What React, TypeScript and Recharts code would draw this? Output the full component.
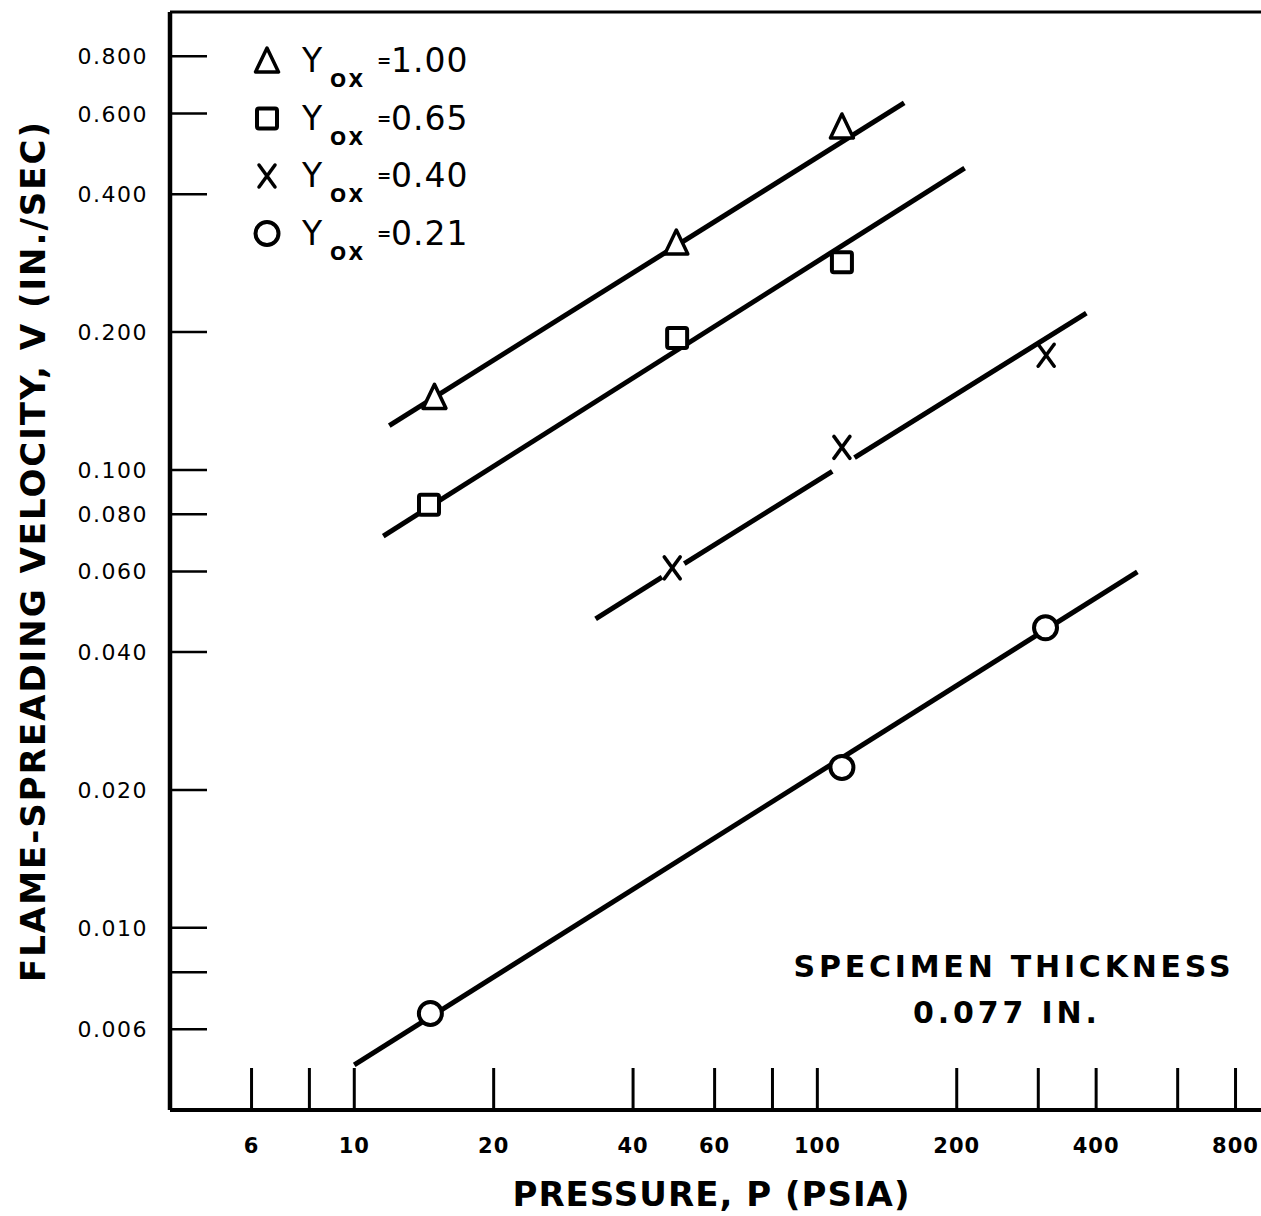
import React from 'react';
import { ComposedChart, Scatter, XAxis, YAxis } from 'recharts';

// axis ticks (log scales)
const pressureTicks = [6, 8, 10, 20, 40, 60, 80, 100, 200, 300, 400, 600, 800];
const pressureLabelled = [6, 10, 20, 40, 60, 100, 200, 400, 800];
const velocityTicks = [0.8, 0.6, 0.4, 0.2, 0.1, 0.08, 0.06, 0.04, 0.02, 0.01, 0.008, 0.006];
const velocityUnlabelled = [0.008];

// measured points, pressure (psia) vs velocity (in./sec)
const yox100Points = [
  { p: 14.9, v: 0.144 },
  { p: 49.6, v: 0.313 },
  { p: 113, v: 0.561 },
];
const yox065Points = [
  { p: 14.5, v: 0.0839 },
  { p: 49.8, v: 0.194 },
  { p: 113, v: 0.284 },
];
const yox040Points = [
  { p: 48.6, v: 0.0611 },
  { p: 113, v: 0.112 },
  { p: 312, v: 0.178 },
];
const yox021Points = [
  { p: 14.6, v: 0.0065 },
  { p: 113, v: 0.0224 },
  { p: 311, v: 0.0452 },
];

// fitted lines (end points)
const yox100Fit = [{ p: 11.9, v: 0.125 }, { p: 154, v: 0.633 }];
const yox065Fit = [{ p: 11.55, v: 0.0717 }, { p: 208, v: 0.456 }];
const yox040FitA = [{ p: 33.2, v: 0.0473 }, { p: 46.2, v: 0.0583 }];
const yox040FitB = [{ p: 51.6, v: 0.0624 }, { p: 107.7, v: 0.0993 }];
const yox040FitC = [{ p: 120.3, v: 0.1064 }, { p: 381, v: 0.22 }];
const yox021Fit = [{ p: 10, v: 0.00502 }, { p: 491, v: 0.0599 }];

const legendRows = [
  { shape: 'triangle', value: '1.00' },
  { shape: 'square', value: '0.65' },
  { shape: 'cross', value: '0.40' },
  { shape: 'circle', value: '0.21' },
];

const FONT = '"DejaVu Sans", Verdana, sans-serif';
const INK = '#000';

const Triangle = ({ cx, cy }: any) => (
  <polygon
    points={`${cx},${cy - 13} ${cx + 11.5},${cy + 11} ${cx - 11.5},${cy + 11}`}
    fill="#fff" stroke={INK} strokeWidth={3.5} strokeLinejoin="round"
  />
);
const Square = ({ cx, cy }: any) => (
  <rect x={cx - 10} y={cy - 10} width={20} height={20} rx={2} fill="#fff" stroke={INK} strokeWidth={4} />
);
const Cross = ({ cx, cy }: any) => (
  <g stroke={INK} strokeWidth={3.5} strokeLinecap="round">
    <line x1={cx - 8} y1={cy - 11} x2={cx + 8} y2={cy + 11} />
    <line x1={cx + 8} y1={cy - 11} x2={cx - 8} y2={cy + 11} />
  </g>
);
const Circle = ({ cx, cy }: any) => (
  <circle cx={cx} cy={cy} r={11.5} fill="#fff" stroke={INK} strokeWidth={4} />
);
const NoDot = () => <g />;

const shapes: Record<string, any> = { triangle: Triangle, square: Square, cross: Cross, circle: Circle };

const XTick = ({ x, y, payload }: any) => {
  const v = payload.value;
  return (
    <g>
      <line x1={x} y1={y} x2={x} y2={y - 42} stroke={INK} strokeWidth={3} />
      {pressureLabelled.includes(v) && (
        <text x={x} y={y + 43} textAnchor="middle" fontFamily={FONT} fontWeight="bold" fontSize={21} letterSpacing={1} fill={INK}>
          {v}
        </text>
      )}
    </g>
  );
};

const YTick = ({ x, y, payload }: any) => {
  const v = payload.value;
  return (
    <g>
      <line x1={x} y1={y} x2={x + 37} y2={y} stroke={INK} strokeWidth={2.5} />
      {!velocityUnlabelled.includes(v) && (
        <text x={x - 22} y={y + 8} textAnchor="end" fontFamily={FONT} fontSize={22} letterSpacing={1.5} fill={INK}>
          {v.toFixed(3)}
        </text>
      )}
    </g>
  );
};

const Overlay = () => (
  <svg width={1261} height={1216} style={{ position: 'absolute', left: 0, top: 0, pointerEvents: 'none' }}>
    <text
      transform="translate(45,552) rotate(-90)"
      textAnchor="middle" fontFamily={FONT} fontWeight="bold" fontSize={34} fill={INK}
      textLength={860} lengthAdjust="spacing"
    >
      FLAME-SPREADING VELOCITY, V (IN./SEC)
    </text>
    <text x={711} y={1206} textAnchor="middle" fontFamily={FONT} fontWeight="bold" fontSize={34} fill={INK}
      textLength={397} lengthAdjust="spacing">
      PRESSURE, P (PSIA)
    </text>
    <text x={1012} y={977} textAnchor="middle" fontFamily={FONT} fontWeight="bold" fontSize={30} fill={INK}
      textLength={437} lengthAdjust="spacing">
      SPECIMEN THICKNESS
    </text>
    <text x={1005} y={1023} textAnchor="middle" fontFamily={FONT} fontWeight="bold" fontSize={30} fill={INK}
      textLength={184} lengthAdjust="spacing">
      0.077 IN.
    </text>
    {legendRows.map((row, i) => {
      const cy = 61 + i * 57.5;
      const base = cy + 11;
      const Marker = shapes[row.shape];
      return (
        <g key={row.value}>
          <Marker cx={267} cy={cy} />
          <text x={302} y={base} fontFamily={FONT} fontSize={33} fill={INK}>Y</text>
          <text x={330} y={base + 15} fontFamily={FONT} fontWeight="bold" fontSize={19} letterSpacing={3} fill={INK}>OX</text>
          <text x={377} y={base - 5} fontFamily={FONT} fontWeight="bold" fontSize={17} fill={INK}>=</text>
          <text x={391} y={base} fontFamily={FONT} fontSize={33} letterSpacing={1} fill={INK}>{row.value}</text>
        </g>
      );
    })}
  </svg>
);

const lineStyle = { stroke: INK, strokeWidth: 5 };

export default function App() {
  return (
    <div style={{ position: 'absolute', left: 0, top: 0, width: 1261, height: 1216, background: '#fff' }}>
      <ComposedChart width={1261} height={1216} margin={{ top: 11, right: 0, bottom: 105, left: 169 }}>
        <XAxis
          dataKey="p" type="number" scale="log" domain={[4, 908]} allowDataOverflow
          ticks={pressureTicks} tick={<XTick />} tickLine={false} tickSize={0} tickMargin={0}
          height={1} interval={0} axisLine={{ stroke: INK, strokeWidth: 4 }}
        />
        <XAxis
          xAxisId="top" orientation="top" type="number" scale="log" domain={[4, 908]}
          height={1} tick={false} tickLine={false} axisLine={{ stroke: INK, strokeWidth: 3 }}
        />
        <YAxis
          dataKey="v" type="number" scale="log" domain={[0.004, 1]} allowDataOverflow
          ticks={velocityTicks} tick={<YTick />} tickLine={false} tickSize={0} tickMargin={0}
          width={1} interval={0} axisLine={{ stroke: INK, strokeWidth: 4.5 }}
        />
        <Scatter data={yox100Fit} line={lineStyle} shape={NoDot} isAnimationActive={false} />
        <Scatter data={yox065Fit} line={lineStyle} shape={NoDot} isAnimationActive={false} />
        <Scatter data={yox040FitA} line={lineStyle} shape={NoDot} isAnimationActive={false} />
        <Scatter data={yox040FitB} line={lineStyle} shape={NoDot} isAnimationActive={false} />
        <Scatter data={yox040FitC} line={lineStyle} shape={NoDot} isAnimationActive={false} />
        <Scatter data={yox021Fit} line={lineStyle} shape={NoDot} isAnimationActive={false} />
        <Scatter data={yox100Points} shape={Triangle} isAnimationActive={false} />
        <Scatter data={yox065Points} shape={Square} isAnimationActive={false} />
        <Scatter data={yox040Points} shape={Cross} isAnimationActive={false} />
        <Scatter data={yox021Points} shape={Circle} isAnimationActive={false} />
      </ComposedChart>
      <Overlay />
    </div>
  );
}
